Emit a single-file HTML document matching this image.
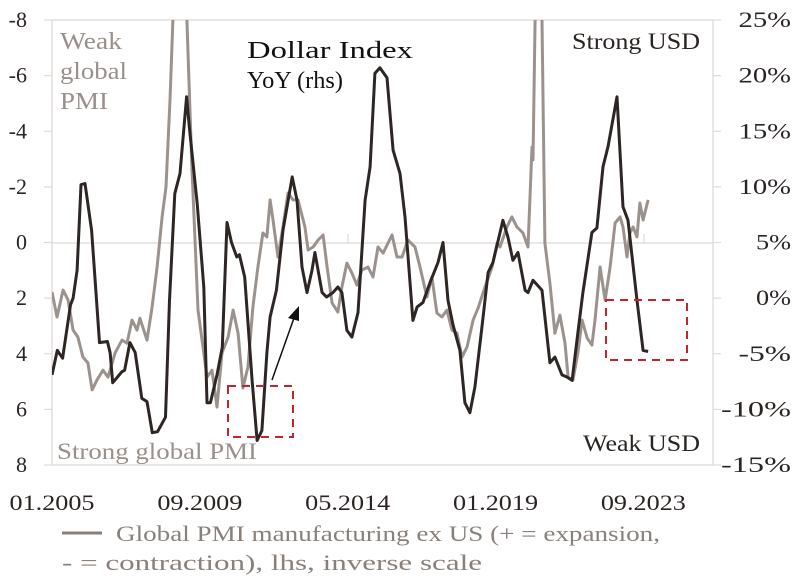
<!DOCTYPE html>
<html><head><meta charset="utf-8"><style>
body{margin:0;background:#fff;}
svg{display:block;font-family:"Liberation Serif",serif;}
</style></head><body>
<svg id="chart" width="806" height="582" viewBox="0 0 806 582">
<g id="frame">
<line x1="52" y1="20" x2="713" y2="20" stroke="#e2dedc" stroke-width="1.5"/>
<line x1="52" y1="465" x2="713" y2="465" stroke="#e2dedc" stroke-width="1.5"/>
<line x1="52" y1="20" x2="52" y2="465" stroke="#e2dedc" stroke-width="1.5"/>
<line x1="713" y1="20" x2="713" y2="465" stroke="#e2dedc" stroke-width="1.5"/>
<line x1="52" y1="243" x2="713" y2="243" stroke="#dedad8" stroke-width="1.2"/>
<line x1="348" y1="234" x2="348" y2="243" stroke="#dedad8" stroke-width="1.2"/>
<line x1="644" y1="234" x2="644" y2="243" stroke="#dedad8" stroke-width="1.2"/>
</g>
<g id="axes"></g>
<g id="series" clip-path="url(#clip)"></g>
<defs><clipPath id="clip"><rect x="52" y="20" width="661" height="445"/></clipPath></defs>
<g>
<text x="60" y="49" font-size="24" fill="#9a908b" textLength="62" lengthAdjust="spacingAndGlyphs">Weak</text>
<text x="60" y="79" font-size="24" fill="#9a908b" textLength="67" lengthAdjust="spacingAndGlyphs">global</text>
<text x="60" y="109" font-size="24" fill="#9a908b" textLength="48" lengthAdjust="spacingAndGlyphs">PMI</text>
<text x="247" y="58" font-size="24" fill="#111" textLength="166" lengthAdjust="spacingAndGlyphs">Dollar Index</text>
<text x="247" y="88" font-size="24" fill="#111" textLength="96" lengthAdjust="spacingAndGlyphs">YoY (rhs)</text>
<text x="572" y="49" font-size="23" fill="#2a2422" textLength="128" lengthAdjust="spacingAndGlyphs">Strong USD</text>
<text x="583" y="451" font-size="23" fill="#2a2422" textLength="117" lengthAdjust="spacingAndGlyphs">Weak USD</text>
<text x="57" y="459" font-size="23" fill="#9a908b" textLength="200" lengthAdjust="spacingAndGlyphs">Strong global PMI</text>
<rect x="228" y="386" width="65" height="51" fill="none" stroke="#c0262c" stroke-width="2" stroke-dasharray="8,6"/>
<rect x="606" y="300" width="81" height="60" fill="none" stroke="#c0262c" stroke-width="2" stroke-dasharray="8,6"/>
<line x1="272" y1="380" x2="294" y2="318" stroke="#111" stroke-width="1.5"/>
<polygon points="299,306 288,318 299,321" fill="#111"/>
</g>
<g>
<line x1="62" y1="533" x2="102" y2="533" stroke="#8a807b" stroke-width="3"/>
<text x="116" y="541" font-size="22" fill="#8a807b" textLength="544" lengthAdjust="spacingAndGlyphs">Global PMI manufacturing ex US (+ = expansion,</text>
<text x="62" y="570" font-size="22" fill="#8a807b" textLength="420" lengthAdjust="spacingAndGlyphs">- = contraction), lhs, inverse scale</text>
</g>
</svg>
<script>
const xTickLabels = ["01.2005","09.2009","05.2014","01.2019","09.2023"];
const xTickMonths = [0,56,112,168,224];
const leftTicks = [-8,-6,-4,-2,0,2,4,6,8];
const rightTicks = [25,20,15,10,5,0,-5,-10,-15];
const pmiMonths = [0,1.9,4.2,6.1,8,9.8,11.7,13.6,15.2,17,19.3,21.2,23.9,26.5,28.4,30.3,32.2,33.3,36,37.9,39.8,41.7,43.2,44.7,45.8,47,48.5,50,51.1,53,55.3,58.7,60.6,62.5,64.4,66.7,68.6,70.5,72.3,74.2,76.1,78,79.9,81.4,82.6,83.7,85.6,87.5,89.4,91.3,93.2,95.8,97,98.9,100.8,102.7,104.2,106.1,108.3,109.8,111.7,113.6,115.5,117.4,119.7,121.6,123.5,125.4,128.8,130.7,132.6,134.8,137.5,139.4,142,143.9,145.8,147.7,149.6,151.5,153.4,155.3,157.2,159.5,161.4,164,166.7,168.6,169.7,172.3,174.2,176.1,178.4,180.3,181.8,182.2,183,184,185,185.6,186.7,188.6,190.5,192.4,194.3,195.5,197.3,199.2,200.8,202.7,204.5,205.7,207.6,209.5,211.4,213.3,215.2,216.3,217.8,218.9,220.1,221.6,222.7,223.9,225.8];
const pmiValues = [1.78,2.68,1.71,2.07,3.15,3.4,4.12,4.33,5.3,4.95,4.59,4.84,3.97,3.51,3.62,2.79,3.15,2.72,3.51,2.32,0.88,-0.92,-2.0,-5.12,-8,-10,-10.5,-9.5,-8,-2.71,2.43,4.84,4.59,5.92,3.97,3.4,2.43,3.26,5.23,4.48,2.32,0.88,-0.34,-0.2,-1.53,-0.81,0.52,-0.56,-1.78,-1.53,-1.53,-0.56,0.27,0.16,-0.09,-0.27,0.88,2.18,2.5,1.6,0.74,1.1,1.53,0.99,0.88,1.24,0.16,0.38,-0.27,0.52,0.52,-0.09,0.16,0.88,1.96,1.24,2.54,2.68,2.43,3.15,3.26,4.12,3.76,2.79,2.36,1.6,0.88,0.02,0.16,-0.56,-0.92,-0.56,-0.34,0.16,-3.43,-2.97,-8,-11,-10,-8,0.02,1.46,3.26,2.61,3.62,4.84,4.95,3.97,2.79,3.43,3.69,2.79,0.88,2.07,0.88,-0.7,-0.92,-0.56,0.52,-0.34,-0.56,-0.2,-1.42,-0.81,-1.53];
const usdMonths = [0,2,4,7,8,9.5,11,12.5,15,18,21,22,23,26.5,27.5,29.5,31.5,34,36,38,40,43,44.5,46.5,48.5,51,52,55,57.5,58.7,60,62.5,64.5,66.3,68,70,71,73,75.8,77.7,79.5,81.4,82.6,85,87.5,91,92.8,94.7,96.6,98.5,99.6,102.3,104,106.4,108.3,109.8,111.7,113.6,115.9,118.6,120.5,122.3,124.2,126.9,129.2,131.8,133.7,136.7,138.3,140.5,143.2,146.2,148.1,150,151.9,154.5,156.4,158.3,160.2,163.3,165.2,167,169,170.8,172.7,174.6,176.5,179.2,180.3,182.2,185.6,188.6,190.5,193.2,195.1,197,199.2,201.1,204.5,206.4,208.7,210.6,214,216.3,218.2,221.6,223.9,225.8];
const usdValues = [-6.9,-4.7,-5.4,-0.6,0.0,2.5,10.2,10.3,6.1,-4.0,-3.9,-4.9,-7.6,-6.6,-6.5,-4.0,-4.9,-9.0,-9.3,-12.1,-12.0,-10.7,-0.2,9.4,11.2,18.1,15.4,8.5,1.0,-9.4,-9.4,-6.9,-4.4,6.8,5.0,3.7,3.9,1.9,-7.4,-12.8,-11.9,-4.9,-1.7,0.7,6.1,10.9,8.8,2.8,0.5,2.5,4.1,0.5,0.1,0.5,1.0,0.5,-2.9,-3.5,-1.3,8.8,11.8,20.2,20.7,19.8,13.3,11.2,7.3,-2.0,-0.8,-0.4,1.4,3.2,5.0,-0.2,-2.4,-4.7,-9.4,-10.3,-8.0,-1.7,2.3,3.2,5.2,7.0,5.5,3.4,4.1,0.7,0.5,1.6,0.7,-5.8,-5.3,-6.9,-7.1,-7.4,-3.1,0.5,5.9,6.3,11.8,13.6,18.1,8.2,7.0,-0.2,-4.7,-4.8];

const NS="http://www.w3.org/2000/svg";
const X0=52, PX_PER_MONTH=2.64, TOP=20, BOT=465;
function xScale(m){return X0+m*PX_PER_MONTH;}
function yLeft(v){return TOP+(v+8)/16*(BOT-TOP);}
function yRight(v){return TOP+(25-v)/40*(BOT-TOP);}
const axes=document.getElementById('axes');
const series=document.getElementById('series');
function mk(tag,attrs,parent){const e=document.createElementNS(NS,tag);for(const k in attrs)e.setAttribute(k,attrs[k]);parent.appendChild(e);return e;}

leftTicks.forEach(v=>{
  const y=yLeft(v);
  mk('line',{x1:44,x2:52,y1:y,y2:y,stroke:'#dedad8','stroke-width':1.2},axes);
  const t=mk('text',{x:27,y:y+7,'font-size':22,fill:'#2a2422','text-anchor':'end'},axes);
  t.textContent=String(v);
  
  
});
rightTicks.forEach(v=>{
  const y=yRight(v);
  mk('line',{x1:713,x2:721,y1:y,y2:y,stroke:'#dedad8','stroke-width':1.2},axes);
  const s=v+'%';
  const t=mk('text',{x:791,y:y+7,'font-size':22,fill:'#2a2422','text-anchor':'end',textLength:s.length*17.5,lengthAdjust:'spacingAndGlyphs'},axes);
  t.textContent=s;
  
  
});
xTickLabels.forEach((lab,i)=>{
  const t=mk('text',{x:xScale(xTickMonths[i]),y:510,'font-size':22,fill:'#2a2422','text-anchor':'middle',textLength:85,lengthAdjust:'spacingAndGlyphs'},axes);
  t.textContent=lab;
  
  
});

const pmiPts=pmiMonths.map((m,i)=>xScale(m).toFixed(1)+','+yLeft(pmiValues[i]).toFixed(1)).join(' ');
const pmiLine=mk('polyline',{points:pmiPts,fill:'none',stroke:'#9c928d','stroke-width':3,'stroke-linejoin':'round'},series);



const usdPts=usdMonths.map((m,i)=>xScale(m).toFixed(1)+','+yRight(usdValues[i]).toFixed(1)).join(' ');
const usdLine=mk('polyline',{points:usdPts,fill:'none',stroke:'#2e2624','stroke-width':3,'stroke-linejoin':'round'},series);


</script>
</body></html>
